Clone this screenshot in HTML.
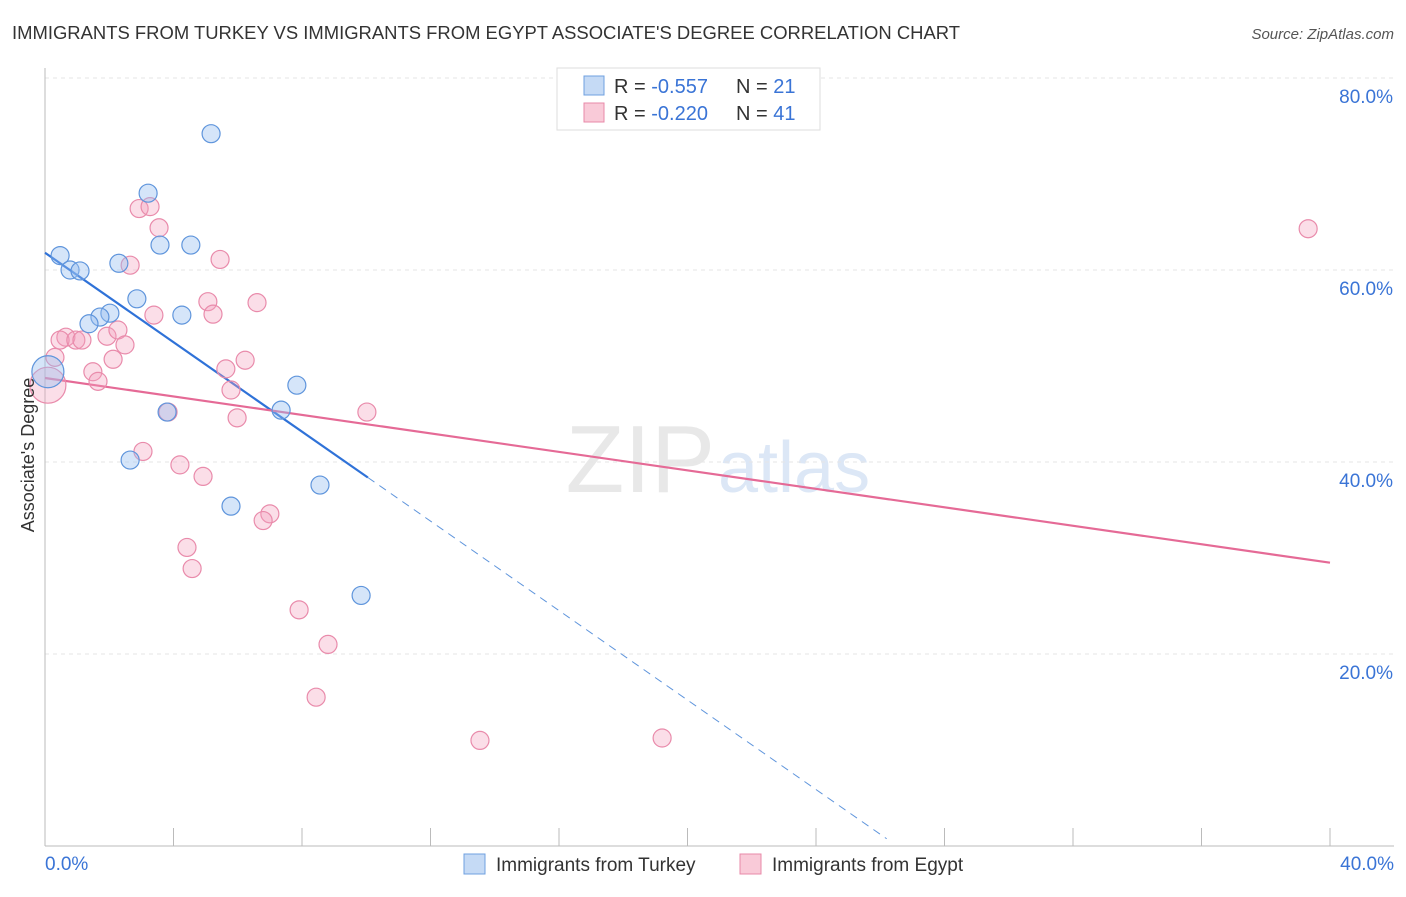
<!DOCTYPE html>
<html><head><meta charset="utf-8"><style>
body{margin:0;background:#fff;font-family:"Liberation Sans",sans-serif;}
svg text{font-family:"Liberation Sans",sans-serif;}
</style></head><body>
<svg id="c" width="1406" height="892" xmlns="http://www.w3.org/2000/svg">
<text x="12" y="39" font-size="18" textLength="948" lengthAdjust="spacingAndGlyphs" fill="#333">IMMIGRANTS FROM TURKEY VS IMMIGRANTS FROM EGYPT ASSOCIATE'S DEGREE CORRELATION CHART</text>
<text x="1394" y="39" font-size="15" fill="#555" text-anchor="end" font-style="italic">Source: ZipAtlas.com</text>
<text x="715" y="492" font-size="96" fill="#e8e8e8" text-anchor="end" font-family="Liberation Serif">ZIP</text>
<text x="718" y="492" font-size="72" fill="#dce7f6">atlas</text>
<g id="grid"></g><g id="axes"></g><g id="trend"></g><g id="pts"></g>
<text transform="translate(34,455) rotate(-90)" font-size="18" fill="#333" text-anchor="middle">Associate's Degree</text>
<g>
<rect x="557" y="68" width="263" height="62" fill="#fff" stroke="#ddd"/>
<rect x="584" y="76" width="20" height="19" fill="#c5daf5" stroke="#6fa0e0"/>
<rect x="584" y="103" width="20" height="19" fill="#f9cad8" stroke="#e889a8"/>
<text x="614" y="93" font-size="20" fill="#333">R = <tspan fill="#3a74d6">-0.557</tspan></text>
<text x="736" y="93" font-size="20" fill="#333">N = <tspan fill="#3a74d6">21</tspan></text>
<text x="614" y="120" font-size="20" fill="#333">R = <tspan fill="#3a74d6">-0.220</tspan></text>
<text x="736" y="120" font-size="20" fill="#333">N = <tspan fill="#3a74d6">41</tspan></text>
</g>
<g>
<rect x="464" y="854" width="21" height="20" fill="#c5daf5" stroke="#6fa0e0"/>
<text x="496" y="871" font-size="19" fill="#333">Immigrants from Turkey</text>
<rect x="740" y="854" width="21" height="20" fill="#f9cad8" stroke="#e889a8"/>
<text x="772" y="871" font-size="19" fill="#333">Immigrants from Egypt</text>
</g>
</svg>
<script>
const yTicks=[20,40,60,80];
const yTickLabels=["20.0%","40.0%","60.0%","80.0%"];
const xTickLabels=["0.0%","40.0%"];
const turkeyX=[5.17,3.21,3.58,4.54,0.47,0.78,1.09,2.30,2.86,2.02,1.71,1.37,4.26,0.09,7.84,3.80,7.35,2.65,8.56,5.79,9.84];
const turkeyY=[74.2,68.0,62.6,62.6,61.5,60.0,59.9,60.7,57.0,55.5,55.1,54.4,55.3,49.4,48.0,45.2,45.4,40.2,37.6,35.4,26.1];
const turkeyR=[9,9,9,9,9,9,9,9,9,9,9,9,9,16,9,9,9,9,9,9,9];
const egyptX=[39.32,2.93,3.27,3.55,5.45,2.65,6.60,5.07,5.23,3.39,0.65,0.47,0.96,1.15,1.93,2.27,2.49,2.12,0.31,6.23,5.63,1.49,1.65,0.09,5.79,5.98,10.02,3.05,4.20,4.92,7.00,6.79,4.42,4.58,7.91,8.81,8.44,13.54,19.21,3.83];
const egyptY=[64.3,66.4,66.6,64.4,61.1,60.5,56.6,56.7,55.4,55.3,53.0,52.7,52.7,52.7,53.1,53.75,52.2,50.7,50.9,50.6,49.7,49.4,48.4,48.0,47.5,44.6,45.2,41.1,39.7,38.5,34.6,33.9,31.1,28.9,24.6,21.0,15.5,11.0,11.25,45.2];
const egyptR=[9,9,9,9,9,9,9,9,9,9,9,9,9,9,9,9,9,9,9,9,9,9,9,18,9,9,9,9,9,9,9,9,9,9,9,9,9,9,9,9];
const turkeyTrend=[61.8,-2.33]; // intercept, slope
const egyptTrend=[48.75,-0.481];
const turkeySolidEnd=10.05, turkeyDashEnd=26.2;
const X=v=>45+v*32.125, Y=v=>846-v*9.6;
const NS="http://www.w3.org/2000/svg";
function mk(p,t,a){const e=document.createElementNS(NS,t);for(const k in a)e.setAttribute(k,a[k]);document.getElementById(p).appendChild(e);return e;}
yTicks.forEach((t,i)=>{
 const l=mk('grid','line',{x1:45,x2:1394,y1:Y(t),y2:Y(t),stroke:'#e6e6e6','stroke-dasharray':'4,4'});
 
 
 const tx=mk('grid','text',{x:1393,y:Y(t)+25,'font-size':19,fill:'#3a74d6','text-anchor':'end'});tx.textContent=yTickLabels[i];
 
 
});
let a=mk('axes','line',{x1:45,x2:45,y1:68,y2:846,stroke:'#bbb'});


a=mk('axes','line',{x1:45,x2:1394,y1:846,y2:846,stroke:'#bbb'});


for(let i=1;i<=10;i++){const t=mk('axes','line',{x1:X(i*4),x2:X(i*4),y1:828,y2:846,stroke:'#bbb'});
 
 }
[[0,'start',45],[40,'end',1394]].forEach((d,i)=>{const t=mk('axes','text',{x:d[2],y:870,'font-size':19,fill:'#3a74d6','text-anchor':d[1]});t.textContent=xTickLabels[i];
 
 });
function pts(xs,ys,rs,fill,stroke,name){xs.forEach((x,i)=>{const c=mk('pts','circle',{cx:X(x),cy:Y(ys[i]),r:rs[i],fill:fill,stroke:stroke,'stroke-width':1.2});
 
 });}
pts(egyptX,egyptY,egyptR,'rgba(244,160,188,0.35)','#e98bab','egypt-point');
pts(turkeyX,turkeyY,turkeyR,'rgba(150,190,240,0.4)','#5f95dc','turkey-point');
let t=mk('trend','line',{x1:X(0),y1:Y(turkeyTrend[0]),x2:X(turkeySolidEnd),y2:Y(turkeyTrend[0]+turkeyTrend[1]*turkeySolidEnd),stroke:'#2f72d8','stroke-width':2.2});


t=mk('trend','line',{x1:X(turkeySolidEnd),y1:Y(turkeyTrend[0]+turkeyTrend[1]*turkeySolidEnd),x2:X(turkeyDashEnd),y2:Y(turkeyTrend[0]+turkeyTrend[1]*turkeyDashEnd),stroke:'#5f95dc','stroke-width':1,'stroke-dasharray':'8,6'});


t=mk('trend','line',{x1:X(0),y1:Y(egyptTrend[0]),x2:X(40),y2:Y(egyptTrend[0]+egyptTrend[1]*40),stroke:'#e56a96','stroke-width':2.2});


</script>
</body></html>
